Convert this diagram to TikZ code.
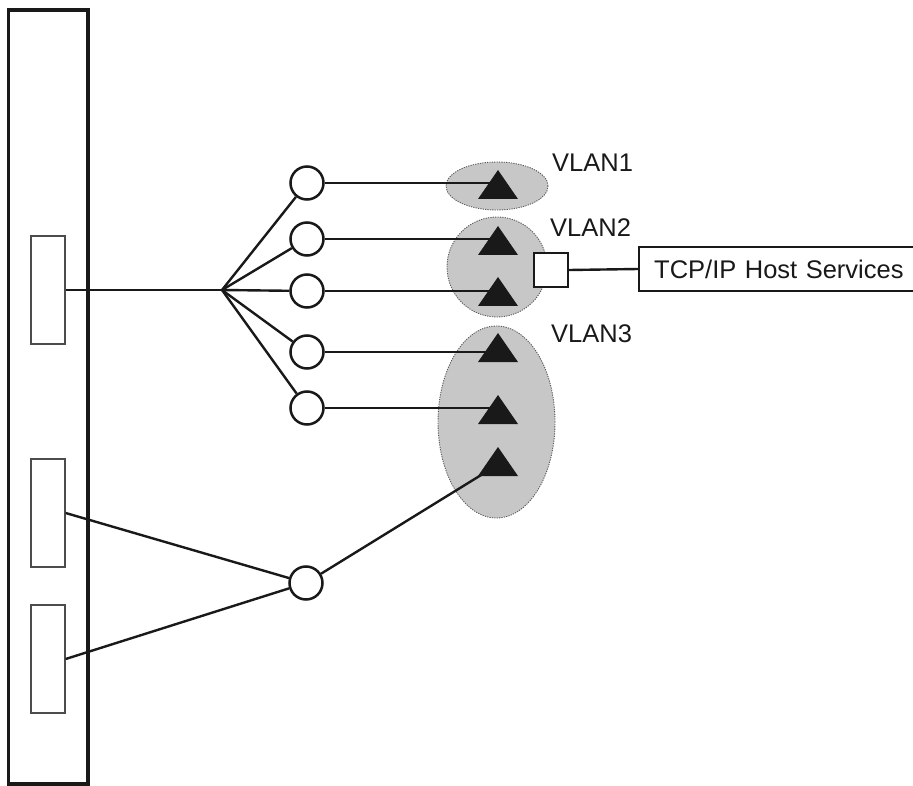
\documentclass[tikz,border=0pt]{standalone}
\usepackage{fontspec}
\setmainfont{Liberation Sans}
\usetikzlibrary{shapes.geometric,calc}

% filled triangle marking a station, centred on a named coordinate
\newcommand\station[1]{%
  \fill[black!90] ($(#1)+(0,-15)$) -- ($(#1)+(20,14)$) -- ($(#1)+(-20,14)$) -- cycle;}

\begin{document}
\begin{tikzpicture}[x=1pt,y=-1pt,
  wire/.style={draw=black!90, line width=2.4pt},
  port/.style={circle, draw=black!90, line width=2.5pt, fill=white,
               minimum size=33pt, inner sep=0pt},
  slot/.style={rectangle, draw=black!70, line width=1.3pt, fill=white,
               minimum width=34pt, minimum height=108pt, inner sep=0pt},
  zone/.style={ellipse, fill=black!22, draw=black!65, line width=0.9pt,
               dash pattern=on 1.2pt off 1.2pt, inner sep=0pt},
  vlantext/.style={anchor=base west, inner sep=0pt,
               font=\fontsize{25.5}{30}\selectfont, text=black!90},
  sqbox/.style={rectangle, draw=black!90, line width=2.4pt, fill=white,
               minimum size=34pt, inner sep=0pt},
  hostbox/.style={rectangle, draw=black!90, line width=2.4pt, fill=white,
               anchor=west, text width=265pt, inner xsep=15pt, inner ysep=0pt,
               minimum height=44pt, text height=18.3pt, text depth=0pt,
               font=\fontsize{25.5}{30}\selectfont, text=black!90}
]
\useasboundingbox (0,0) rectangle (913,786);

% chassis
\draw[black!90, line width=3.3pt] (8.5,10) rectangle (88,784);
\node[slot] (r1) at (48,290) {};
\node[slot] (r2) at (48,513) {};
\node[slot] (r3) at (48,659) {};

% VLAN groupings
\node[zone, minimum width=102pt, minimum height=48pt]  (z1) at (497,186) {};
\node[zone, minimum width=100pt, minimum height=100pt] (z2) at (497,267) {};
\node[zone, minimum width=117pt, minimum height=192pt] (z3) at (496.5,422) {};

% stations
\coordinate (t1) at (498,185);
\coordinate (t2) at (498,241);
\coordinate (t3) at (498,292);
\coordinate (t4) at (498,348);
\coordinate (t5) at (498,410);
\coordinate (t6) at (498,462);
\coordinate (t6in) at (486,472);

% ports
\coordinate (fan) at (222,290);
\node[port] (c1) at (307,183) {};
\node[port] (c2) at (307,239) {};
\node[port] (c3) at (307,291) {};
\node[port] (c4) at (307,352) {};
\node[port] (c5) at (307,408) {};
\node[port] (c6) at (306,583) {};

% links
\draw[wire] (r1.east) -- (fan);
\foreach \c in {c1,c2,c3,c4,c5}{
  \draw[wire] (fan) -- (\c);
}
\draw[wire] (c1.east) -- (c1 -| t1);
\draw[wire] (c2.east) -- (c2 -| t2);
\draw[wire] (c3.east) -- (c3 -| t3);
\draw[wire] (c4.east) -- (c4 -| t4);
\draw[wire] (c5.east) -- (c5 -| t5);
\draw[wire] (r2.east) -- (c6);
\draw[wire] (r3.east) -- (c6);
\draw[wire] (c6) -- (t6in);

\station{t1}\station{t2}\station{t3}\station{t4}\station{t5}\station{t6}

% host services attachment
\node[hostbox] (host) at (638,269) {TCP/IP Host Services};
\node[sqbox] (sq) at (551,270) {};
\draw[wire] (sq.east) -- (host.west);

% labels
\node[vlantext] (v1) at (552,172) {VLAN1};
\node[vlantext] (v2) at (550,237) {VLAN2};
\node[vlantext] (v3) at (551,342) {VLAN3};
\end{tikzpicture}
\end{document}
